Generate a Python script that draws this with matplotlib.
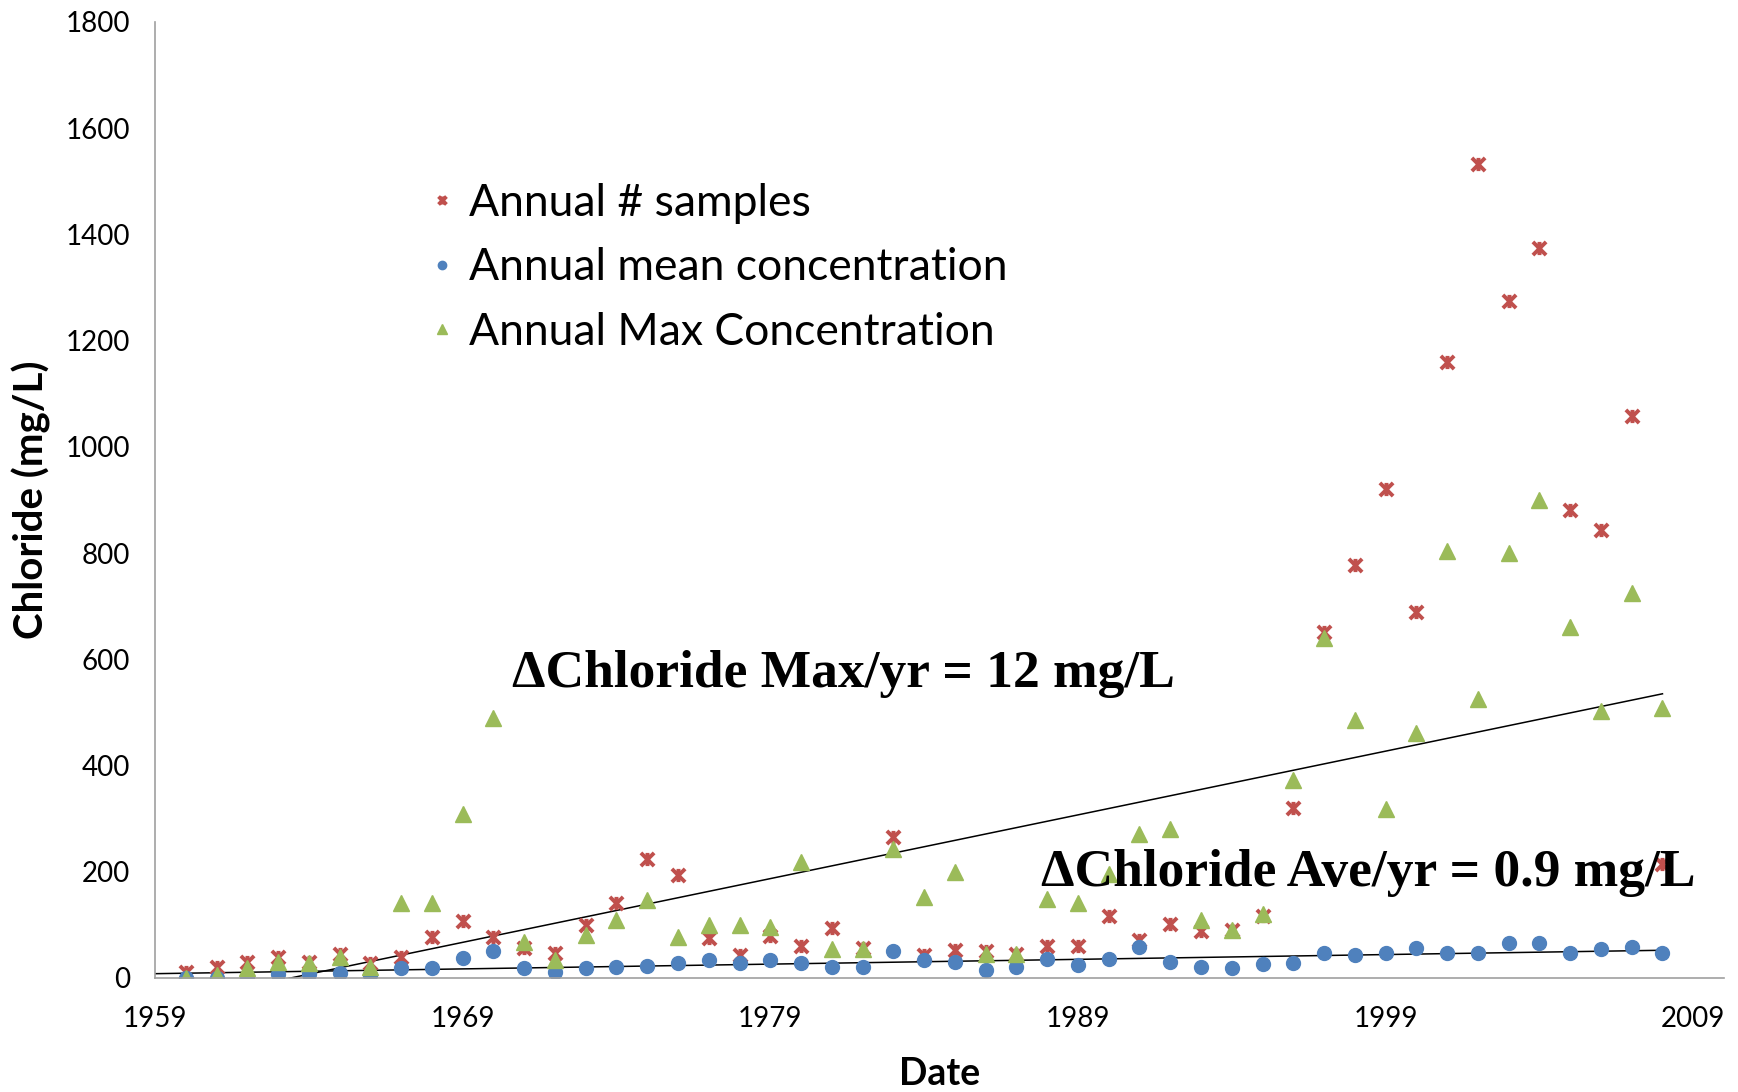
import numpy as np
import matplotlib
matplotlib.use("Agg")
import matplotlib.pyplot as plt
from matplotlib.path import Path

years = np.arange(1960, 2009)

n_samples = [12, 21, 31, 40, 31, 46, 28, 39, 78, 108,
             78, 56, 48, 100, 141, 224, 194, 75, 43, 79,
             60, 94, 57, 265, 44, 52, 50, 46, 61, 61,
             117, 72, 101, 88, 91, 117, 321, 652, 778, 921,
             690, 1159, 1532, 1274, 1374, 881, 843, 1059, 214]

mean_conc = [0, 0, 0, 8, 8, 10, 5, 19, 18, 38,
             51, 19, 12, 19, 21, 23, 28, 33, 28, 33,
             28, 21, 21, 50, 33, 30, 16, 21, 36, 25,
             36, 58, 30, 20, 19, 27, 28, 48, 43, 47,
             57, 47, 48, 65, 66, 47, 55, 59, 47]

max_conc = [0, 5, 19, 31, 28, 39, 21, 141, 141, 309,
            489, 67, 34, 81, 109, 147, 77, 99, 99, 96,
            219, 55, 55, 243, 152, 200, 46, 46, 149, 142,
            195, 271, 280, 109, 90, 120, 372, 641, 486, 319,
            461, 804, 526, 800, 900, 661, 503, 724, 508]

# yearly change stated for each trend (mg/L per yr)
max_slope = 12
ave_slope = 0.9

labels = ["Annual # samples", "Annual mean concentration", "Annual Max Concentration"]
xticks = [1959, 1969, 1979, 1989, 1999, 2009]
yticks = np.arange(0, 1801, 200)

red = "#C0504D"
blue = "#4F81BD"
green = "#9BBB59"

# star marker: x with a vertical stroke
star = Path([(-1, -1), (1, 1), (-1, 1), (1, -1), (0, -1), (0, 1)],
            [Path.MOVETO, Path.LINETO, Path.MOVETO, Path.LINETO, Path.MOVETO, Path.LINETO])

plt.rcParams['font.family'] = ['Lato', 'DejaVu Sans']

fig = plt.figure(figsize=(17.38, 10.92), dpi=100)
ax = fig.add_axes([155 / 1738, 1 - 978 / 1092, (1724 - 155) / 1738, (978 - 22) / 1092])

ax.plot(years, n_samples, linestyle='none', marker=star, ms=9.5, mew=2.8,
        mec=red, mfc='none', label=labels[0])
ax.plot(years, mean_conc, linestyle='none', marker='o', ms=10,
        color=blue, label=labels[1])
ax.plot(years, max_conc, linestyle='none', marker='^', ms=11,
        color=green, label=labels[2])

# trend lines with the stated slopes, through the mean of each series
tx = np.array([1959, 2008])
for series, k in ((max_conc, max_slope), (mean_conc, ave_slope)):
    b = np.mean(series) - k * np.mean(years)
    ax.plot(tx, k * tx + b, color='black', lw=1.1, zorder=1)

ax.set_xlim(1959, 2010)
ax.set_ylim(0, 1800)
ax.set_xticks(xticks)
ax.set_yticks(yticks)
ax.tick_params(length=0, labelsize=20)
ax.tick_params(axis='x', pad=20)
ax.tick_params(axis='y', pad=18)
for s in ('top', 'right'):
    ax.spines[s].set_visible(False)
for s in ('left', 'bottom'):
    ax.spines[s].set_color('#A0A0A0')
    ax.spines[s].set_linewidth(1.2)

ax.set_ylabel("Chloride (mg/L)", fontsize=29, fontweight='bold')
ax.yaxis.set_label_coords(-0.066, 0.5)
ax.set_xlabel("Date", fontsize=27, fontweight='bold', labelpad=18)

ax.legend(loc='upper left', bbox_to_anchor=(0.1715, 0.832), frameon=False,
          borderpad=0, borderaxespad=0,
          fontsize=32, markerscale=0.6, handletextpad=0.21, labelspacing=0.53,
          handlelength=0.8)

serif = ['Liberation Serif', 'DejaVu Serif']
ax.text(1970.6, 572, "\u0394Chloride Max/yr = 12 mg/L", fontsize=38.5, fontweight='bold',
        family=serif, va='center', ha='left')
ax.text(1987.8, 198, "\u0394Chloride Ave/yr = 0.9 mg/L", fontsize=38.5, fontweight='bold',
        family=serif, va='center', ha='left')

fig.savefig("out.png", dpi=100)
